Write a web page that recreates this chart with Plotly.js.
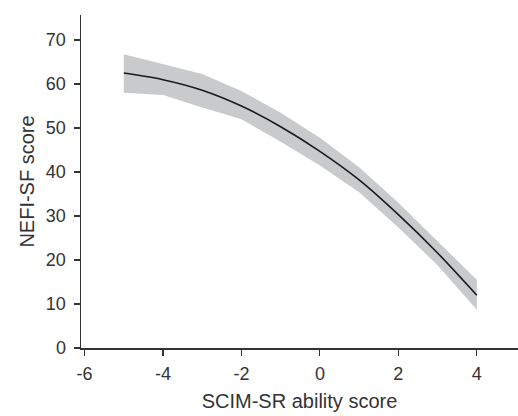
<!DOCTYPE html>
<html>
<head>
<meta charset="utf-8">
<script src="https://cdn.plot.ly/plotly-3.0.1.min.js"></script>
<style>html,body{margin:0;padding:0;background:#fff;}#chart{width:518px;height:416px;}</style>
</head>
<body>
<div id="chart"></div>
<script>
var abilityScore = [-5, -4, -3, -2, -1, 0, 1, 2, 3, 4];
var nefiFit   = [62.5, 61.0, 58.6, 55.0, 50.3, 44.7, 38.2, 30.3, 21.6, 12.0];
var nefiUpper = [66.8, 64.5, 62.3, 58.4, 53.5, 47.8, 41.1, 33.0, 24.2, 15.5];
var nefiLower = [58.0, 57.5, 54.7, 52.0, 46.9, 41.5, 35.4, 27.4, 18.8, 8.7];
var xTicks = [-6, -4, -2, 0, 2, 4];
var yTicks = [0, 10, 20, 30, 40, 50, 60, 70];

var textColor = '#333333';
var traces = [
  {x: abilityScore, y: nefiLower, mode: 'lines', line: {width: 0, color: 'rgba(0,0,0,0)'}, showlegend: false, hoverinfo: 'skip'},
  {x: abilityScore, y: nefiUpper, mode: 'lines', fill: 'tonexty', fillcolor: '#c9cacc', line: {width: 0, color: 'rgba(0,0,0,0)'}, showlegend: false, hoverinfo: 'skip'},
  {x: abilityScore, y: nefiFit, mode: 'lines', line: {color: '#1a1a1a', width: 1.6, shape: 'spline', smoothing: 0.8}, showlegend: false}
];
var layout = {
  width: 518, height: 416,
  margin: {l: 81, r: 0, t: 15, b: 68, pad: 0},
  paper_bgcolor: '#ffffff', plot_bgcolor: '#ffffff',
  font: {family: '"Liberation Sans", Arial, sans-serif', color: textColor, size: 18},
  showlegend: false,
  xaxis: {
    range: [-6.09, 5.05], tickvals: xTicks, ticktext: xTicks.map(String),
    showgrid: false, zeroline: false, showline: true, linecolor: '#333333', linewidth: 1.5,
    ticks: 'outside', ticklen: 6, tickwidth: 1.2, tickcolor: '#333333',
    tickfont: {size: 18, color: textColor}, ticklabelstandoff: 3,
    title: {text: 'SCIM-SR ability score', font: {size: 20, color: textColor}, standoff: 11}
  },
  yaxis: {
    range: [0, 75.7], tickvals: yTicks, ticktext: yTicks.map(String),
    showgrid: false, zeroline: false, showline: true, linecolor: '#333333', linewidth: 1.5,
    ticks: 'outside', ticklen: 6, tickwidth: 1.2, tickcolor: '#333333',
    tickfont: {size: 18, color: textColor}, ticklabelstandoff: 4,
    title: {text: 'NEFI-SF score', font: {size: 20, color: textColor}, standoff: 6}
  }
};
Plotly.newPlot('chart', traces, layout, {displayModeBar: false, staticPlot: true});
</script>
</body>
</html>
